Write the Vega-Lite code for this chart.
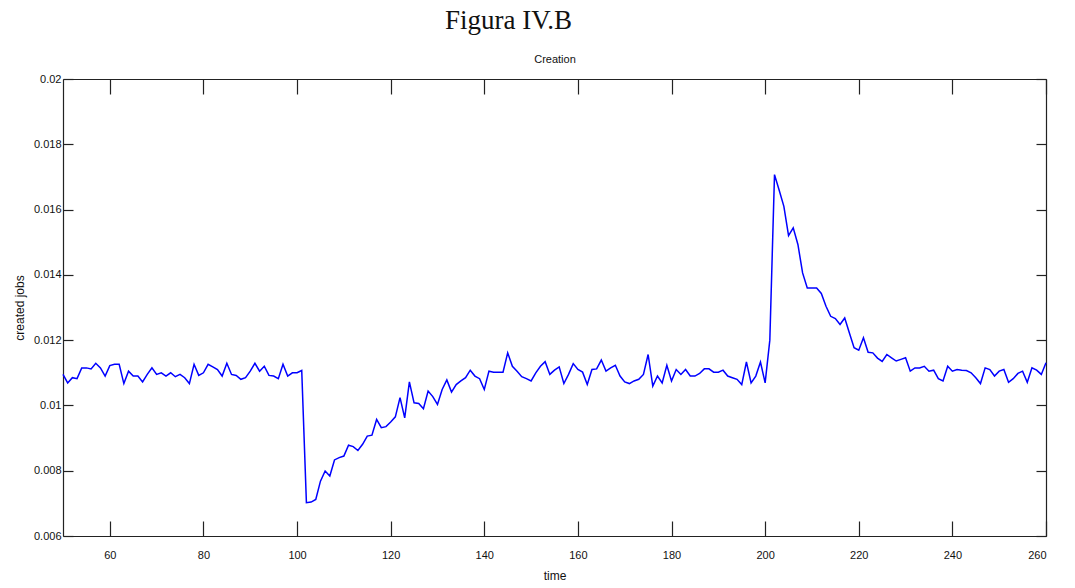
{
"$schema": "https://vega.github.io/schema/vega-lite/v6.json",
"autosize": {"type": "none"},
"width": 983,
"height": 457,
"padding": {"left": 63, "top": 79, "right": 29, "bottom": 52},
"background": "white",
"title": {"text": "Figura IV.B", "font": "Liberation Serif", "fontSize": 27, "fontWeight": "normal", "color": "#111111", "anchor": "middle", "dx": -46, "offset": 18},
"config": {"view": {"stroke": null}, "axis": {"grid": false, "domainColor": "#222222", "tickColor": "#222222", "domainWidth": 1.2, "tickWidth": 1.2, "labelFont": "Liberation Sans", "labelFontSize": 11, "labelColor": "#111111", "titleFont": "Liberation Sans", "titleFontSize": 12, "titleFontWeight": "normal", "titleColor": "#111111"}},
"data": {"values": [
{"t":50,"v":0.01095},{"t":51,"v":0.01069},{"t":52,"v":0.01085},{"t":53,"v":0.01082},{"t":54,"v":0.01115},{"t":55,"v":0.01115},{"t":56,"v":0.01112},{"t":57,"v":0.01129},{"t":58,"v":0.01115},{"t":59,"v":0.0109},
{"t":60,"v":0.01122},{"t":61,"v":0.01126},{"t":62,"v":0.01126},{"t":63,"v":0.01067},{"t":64,"v":0.01105},{"t":65,"v":0.0109},{"t":66,"v":0.0109},{"t":67,"v":0.01072},{"t":68,"v":0.01095},{"t":69,"v":0.01115},
{"t":70,"v":0.01095},{"t":71,"v":0.011},{"t":72,"v":0.0109},{"t":73,"v":0.011},{"t":74,"v":0.01088},{"t":75,"v":0.01095},{"t":76,"v":0.01085},{"t":77,"v":0.01067},{"t":78,"v":0.01126},{"t":79,"v":0.01092},
{"t":80,"v":0.011},{"t":81,"v":0.01126},{"t":82,"v":0.01118},{"t":83,"v":0.0111},{"t":84,"v":0.0109},{"t":85,"v":0.01129},{"t":86,"v":0.01095},{"t":87,"v":0.01092},{"t":88,"v":0.0108},{"t":89,"v":0.01085},
{"t":90,"v":0.01105},{"t":91,"v":0.01129},{"t":92,"v":0.01105},{"t":93,"v":0.0112},{"t":94,"v":0.01092},{"t":95,"v":0.0109},{"t":96,"v":0.01082},{"t":97,"v":0.01126},{"t":98,"v":0.0109},{"t":99,"v":0.011},
{"t":100,"v":0.011},{"t":101,"v":0.01107},{"t":102,"v":0.00702},{"t":103,"v":0.00704},{"t":104,"v":0.00712},{"t":105,"v":0.00768},{"t":106,"v":0.00799},{"t":107,"v":0.00784},{"t":108,"v":0.00833},{"t":109,"v":0.0084},
{"t":110,"v":0.00845},{"t":111,"v":0.00878},{"t":112,"v":0.00874},{"t":113,"v":0.00862},{"t":114,"v":0.00881},{"t":115,"v":0.00906},{"t":116,"v":0.00909},{"t":117,"v":0.00957},{"t":118,"v":0.00932},{"t":119,"v":0.00935},
{"t":120,"v":0.00949},{"t":121,"v":0.00965},{"t":122,"v":0.01024},{"t":123,"v":0.00962},{"t":124,"v":0.01072},{"t":125,"v":0.01008},{"t":126,"v":0.01006},{"t":127,"v":0.0099},{"t":128,"v":0.01044},{"t":129,"v":0.01027},
{"t":130,"v":0.01003},{"t":131,"v":0.01049},{"t":132,"v":0.01078},{"t":133,"v":0.01041},{"t":134,"v":0.01064},{"t":135,"v":0.01075},{"t":136,"v":0.01085},{"t":137,"v":0.01108},{"t":138,"v":0.0109},{"t":139,"v":0.01082},
{"t":140,"v":0.01049},{"t":141,"v":0.01105},{"t":142,"v":0.01102},{"t":143,"v":0.01102},{"t":144,"v":0.01102},{"t":145,"v":0.01161},{"t":146,"v":0.0112},{"t":147,"v":0.01105},{"t":148,"v":0.01088},{"t":149,"v":0.01082},
{"t":150,"v":0.01075},{"t":151,"v":0.011},{"t":152,"v":0.0112},{"t":153,"v":0.01134},{"t":154,"v":0.01095},{"t":155,"v":0.01108},{"t":156,"v":0.01118},{"t":157,"v":0.01067},{"t":158,"v":0.01095},{"t":159,"v":0.01128},
{"t":160,"v":0.0111},{"t":161,"v":0.01102},{"t":162,"v":0.01064},{"t":163,"v":0.0111},{"t":164,"v":0.01112},{"t":165,"v":0.01139},{"t":166,"v":0.01105},{"t":167,"v":0.01115},{"t":168,"v":0.01123},{"t":169,"v":0.0109},
{"t":170,"v":0.01072},{"t":171,"v":0.01067},{"t":172,"v":0.01075},{"t":173,"v":0.0108},{"t":174,"v":0.01095},{"t":175,"v":0.01156},{"t":176,"v":0.01059},{"t":177,"v":0.0109},{"t":178,"v":0.01069},{"t":179,"v":0.01123},
{"t":180,"v":0.01075},{"t":181,"v":0.0111},{"t":182,"v":0.01095},{"t":183,"v":0.0111},{"t":184,"v":0.0109},{"t":185,"v":0.0109},{"t":186,"v":0.01098},{"t":187,"v":0.01112},{"t":188,"v":0.01112},{"t":189,"v":0.01102},
{"t":190,"v":0.01102},{"t":191,"v":0.01108},{"t":192,"v":0.0109},{"t":193,"v":0.01085},{"t":194,"v":0.0108},{"t":195,"v":0.01064},{"t":196,"v":0.01133},{"t":197,"v":0.01069},{"t":198,"v":0.0109},{"t":199,"v":0.01133},
{"t":200,"v":0.01069},{"t":201,"v":0.012},{"t":202,"v":0.01707},{"t":203,"v":0.01659},{"t":204,"v":0.0161},{"t":205,"v":0.0152},{"t":206,"v":0.01544},{"t":207,"v":0.01493},{"t":208,"v":0.01406},{"t":209,"v":0.0136},
{"t":210,"v":0.0136},{"t":211,"v":0.0136},{"t":212,"v":0.01343},{"t":213,"v":0.01304},{"t":214,"v":0.01273},{"t":215,"v":0.01266},{"t":216,"v":0.01248},{"t":217,"v":0.01268},{"t":218,"v":0.01222},{"t":219,"v":0.01177},
{"t":220,"v":0.01169},{"t":221,"v":0.01207},{"t":222,"v":0.01163},{"t":223,"v":0.01161},{"t":224,"v":0.01145},{"t":225,"v":0.01135},{"t":226,"v":0.01156},{"t":227,"v":0.01146},{"t":228,"v":0.01136},{"t":229,"v":0.01141},
{"t":230,"v":0.01146},{"t":231,"v":0.01105},{"t":232,"v":0.01115},{"t":233,"v":0.01115},{"t":234,"v":0.0112},{"t":235,"v":0.01105},{"t":236,"v":0.01108},{"t":237,"v":0.01082},{"t":238,"v":0.01075},{"t":239,"v":0.0112},
{"t":240,"v":0.01105},{"t":241,"v":0.0111},{"t":242,"v":0.01108},{"t":243,"v":0.01107},{"t":244,"v":0.011},{"t":245,"v":0.01085},{"t":246,"v":0.01067},{"t":247,"v":0.01115},{"t":248,"v":0.0111},{"t":249,"v":0.0109},
{"t":250,"v":0.01105},{"t":251,"v":0.0111},{"t":252,"v":0.01071},{"t":253,"v":0.01082},{"t":254,"v":0.01098},{"t":255,"v":0.01105},{"t":256,"v":0.01071},{"t":257,"v":0.01115},{"t":258,"v":0.01108},{"t":259,"v":0.01095},
{"t":260,"v":0.01131}
]},
"layer": [
{
"mark": {"type": "line", "color": "#0000ff", "strokeWidth": 1.5},
"encoding": {
"x": {"field": "t", "type": "quantitative", "scale": {"domain": [50, 260], "nice": false, "zero": false},
"axis": {"orient": "bottom", "values": [60,80,100,120,140,160,180,200,220,240,260], "tickSize": -15, "labelPadding": 28, "title": "time", "titlePadding": 10}},
"y": {"field": "v", "type": "quantitative", "scale": {"domain": [0.006, 0.02], "nice": false, "zero": false},
"axis": {"orient": "left", "values": [0.006,0.008,0.01,0.012,0.014,0.016,0.018,0.02], "format": "~g", "tickSize": -10, "labelPadding": 12, "title": "created jobs", "titlePadding": 7}}
}
},
{
"mark": {"type": "line", "opacity": 0},
"encoding": {
"x": {"field": "t", "type": "quantitative", "axis": {"orient": "top", "values": [60,80,100,120,140,160,180,200,220,240,260], "tickSize": -15, "labels": false, "title": "Creation", "titleFontSize": 11, "titlePadding": 14}},
"y": {"field": "v", "type": "quantitative", "axis": {"orient": "right", "values": [0.006,0.008,0.01,0.012,0.014,0.016,0.018,0.02], "tickSize": -10, "labels": false, "title": null}}
}
}
],
"resolve": {"axis": {"x": "independent", "y": "independent"}}
}
